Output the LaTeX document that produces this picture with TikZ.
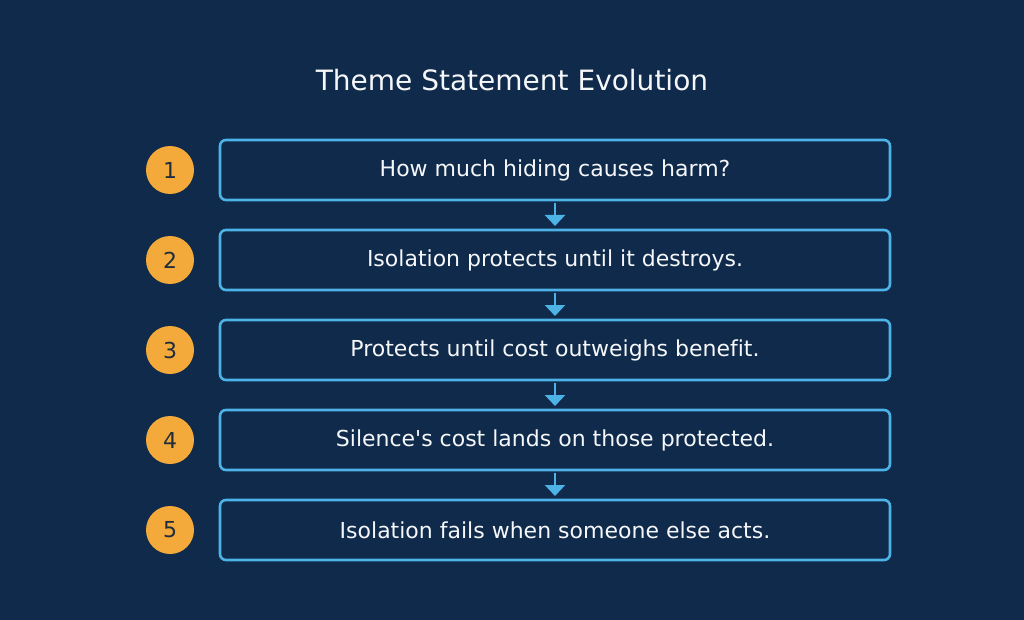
\documentclass[tikz,border=0pt]{standalone}
\usepackage{fontspec}
\setmainfont{DejaVu Sans}[Ligatures={NoCommon}]
\usetikzlibrary{arrows.meta, positioning}

\definecolor{bgnavy}{HTML}{0F2A4A}
\definecolor{stepblue}{HTML}{4DB3E6}
\definecolor{badgeorange}{HTML}{F4A93B}
\definecolor{badgetext}{HTML}{1F2D3D}
\definecolor{textwhite}{HTML}{F5F7FA}

\begin{document}
\begin{tikzpicture}
    [
        x=1pt, y=-1pt,
        node distance=30pt,
        stepbox/.style={draw=stepblue, line width=2.6pt, rounded corners=6pt,
            minimum width=670pt, minimum height=60pt, inner sep=0pt, outer sep=0pt,
            text=textwhite, font=\fontsize{22}{26}\selectfont},
        badge/.style={circle, fill=badgeorange, minimum size=48pt, inner sep=0pt,
            outer sep=0pt, text=badgetext, font=\fontsize{22}{26}\selectfont}
    ]
    \tikzstyle{flow} = [draw=stepblue, line width=2.6pt,
        -{Triangle[width=20pt,length=11pt]}, shorten <=3pt, shorten >=4pt]

    % background and frame
    \fill[bgnavy] (0,0) rectangle (1024,620);
    \useasboundingbox (0,0) rectangle (1024,620);

    \node[text=textwhite, font=\fontsize{28}{32}\selectfont] (title) at (512,80) {Theme Statement Evolution};

    % steps
    \node[stepbox] (s1) at (555,170) {How much hiding causes harm?};
    \node[stepbox, below=of s1] (s2) {Isolation protects until it destroys.};
    \node[stepbox, below=of s2] (s3) {Protects until cost outweighs benefit.};
    \node[stepbox, below=of s3] (s4) {Silence\textquotesingle s cost lands on those protected.};
    \node[stepbox, below=of s4] (s5) {Isolation fails when someone else acts.};

    % numbers
    \node[badge, left=26pt of s1] (n1) {1};
    \node[badge, left=26pt of s2] (n2) {2};
    \node[badge, left=26pt of s3] (n3) {3};
    \node[badge, left=26pt of s4] (n4) {4};
    \node[badge, left=26pt of s5] (n5) {5};

    \path[flow] (s1) -- (s2);
    \path[flow] (s2) -- (s3);
    \path[flow] (s3) -- (s4);
    \path[flow] (s4) -- (s5);

\end{tikzpicture}
\end{document}
